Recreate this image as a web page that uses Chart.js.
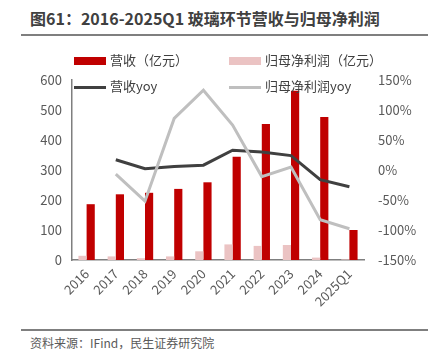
<!DOCTYPE html>
<html>
<head>
<meta charset="utf-8">
<script src="https://cdn.jsdelivr.net/npm/chart.js@4"></script>
<style>
  body { margin: 0; width: 439px; height: 363px; background: #fff; position: relative; overflow: hidden;
         font-family: "Noto Sans CJK SC", "Noto Sans", sans-serif; }
  #title { position: absolute; left: 30px; top: 6px; font-size: 16px; font-weight: bold; color: #404040; white-space: nowrap; }
  #rule1 { position: absolute; left: 21px; top: 34px; width: 407px; height: 2px; background: #7f7f7f; }
  #rule2 { position: absolute; left: 21px; top: 329px; width: 407px; height: 2px; background: #7f7f7f; }
  #source { position: absolute; left: 30px; top: 334px; font-size: 12px; color: #595959; white-space: nowrap; }
  #wrap { position: absolute; left: 0; top: 40px; width: 439px; height: 280px; }
  .lg { position: absolute; font-size: 13px; color: #404040; white-space: nowrap; line-height: 16px; }
  .lg i { display: inline-block; width: 32px; vertical-align: middle; margin-right: 4px; }
</style>
</head>
<body>
<div id="title">图61：2016-2025Q1 玻璃环节营收与归母净利润</div>
<div id="rule1"></div>
<div id="wrap"><canvas id="c"></canvas></div>
<div class="lg" style="left:74px;top:52px"><i style="height:8px;background:#C00000"></i>营收（亿元）</div>
<div class="lg" style="left:229px;top:52px"><i style="height:8px;background:#EBC3C3"></i>归母净利润（亿元）</div>
<div class="lg" style="left:74px;top:78px"><i style="height:3px;background:#404040"></i>营收yoy</div>
<div class="lg" style="left:229px;top:78px"><i style="height:3px;background:#BFBFBF"></i>归母净利润yoy</div>
<div id="rule2"></div>
<div id="source">资料来源：IFind，民生证券研究院</div>
<script>
const years = ['2016', '2017', '2018', '2019', '2020', '2021', '2022', '2023', '2024', '2025Q1'];
const revenue = [186, 219, 224, 237, 259, 344, 453, 564, 477, 100];
const netProfit = [14, 12, 6, 12, 29, 52, 47, 50, 8, 2];
const revenueYoy = [null, 17, 2, 6, 8, 33, 30, 24, -16, -28];
const profitYoy = [null, -7, -52, 86, 133, 75, -11, 5, -83, -98];

const tickFont = { family: '"Noto Sans CJK SC", "Noto Sans", sans-serif', size: 13 };
const tickColor = '#595959';

const ctx = document.getElementById('c').getContext('2d');
new Chart(ctx, {
    type: 'bar',
    data: {
        labels: years,
        datasets: [
            { type: 'line', label: '营收yoy', data: revenueYoy, yAxisID: 'y1', borderColor: '#404040',
              borderWidth: 3, pointRadius: 0, tension: 0, order: 1 },
            { type: 'line', label: '归母净利润yoy', data: profitYoy, yAxisID: 'y1', borderColor: '#BFBFBF',
              borderWidth: 3, pointRadius: 0, tension: 0, order: 0 },
            { label: '营收（亿元）', data: revenue, backgroundColor: '#C00000', yAxisID: 'y',
              categoryPercentage: 0.56, barPercentage: 1, order: 3 },
            { label: '归母净利润（亿元）', data: netProfit, backgroundColor: '#EBC3C3', yAxisID: 'y',
              categoryPercentage: 0.56, barPercentage: 1, order: 2 }
        ]
    },
    options: {
        responsive: true,
        maintainAspectRatio: false,
        animation: false,
        layout: { padding: { top: 40, left: 0, right: 0, bottom: 0 } },
        plugins: { legend: { display: false }, tooltip: { enabled: false } },
        scales: {
            x: {
                grid: { display: false, drawTicks: false },
                border: { color: '#7f7f7f', width: 1.5 },
                ticks: { color: tickColor, font: tickFont, maxRotation: 45, minRotation: 45, padding: 6 },
                afterFit: s => { s.height = 60; }
            },
            y: {
                position: 'left', min: 0, max: 600,
                grid: { display: false, drawTicks: false },
                border: { color: '#7f7f7f', width: 1.5 },
                ticks: { stepSize: 100, color: tickColor, font: tickFont, padding: 10 },
                afterFit: s => { s.width = 72; }
            },
            y1: {
                position: 'right', min: -150, max: 150,
                grid: { display: false, drawTicks: false },
                border: { display: false },
                ticks: { stepSize: 50, color: tickColor, font: tickFont, padding: 14,
                         callback: v => v + '%' },
                afterFit: s => { s.width = 75; }
            }
        }
    }
});
</script>
</body>
</html>
